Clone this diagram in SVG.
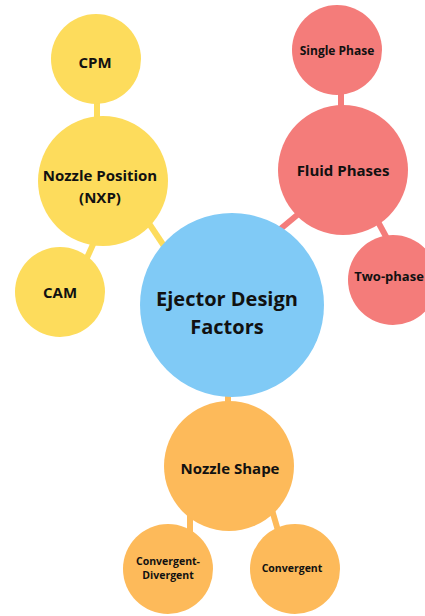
<svg xmlns="http://www.w3.org/2000/svg" width="425" height="616" viewBox="0 0 425 616">
<style>
text{font-family:"Open Sans","Liberation Sans",sans-serif;font-weight:bold;fill:#111;text-anchor:middle;dominant-baseline:central}
.y{fill:#FDDC5C}.b{fill:#80CAF6}.r{fill:#F47C7A}.o{fill:#FDBA5A}
.ly{stroke:#FDDC5C}.lr{stroke:#F47C7A}.lo{stroke:#FDBA5A}
line{stroke-width:6}
</style>
<rect width="425" height="616" fill="#fff"/>
<g id="connectors">
<line class="ly" x1="97" y1="100" x2="97" y2="120"/>
<line class="ly" x1="148" y1="222" x2="168" y2="252"/>
<line class="ly" x1="95" y1="240" x2="86" y2="260"/>
<line class="lr" x1="302" y1="211" x2="272" y2="236"/>
<line class="lr" x1="341" y1="90" x2="341" y2="110"/>
<line class="lr" x1="377" y1="220" x2="390" y2="244"/>
<line class="lo" x1="228" y1="390" x2="228" y2="406"/>
<line class="lo" x1="190" y1="510" x2="190" y2="534"/>
<line class="lo" x1="272" y1="510" x2="279" y2="534"/>
</g>
<g id="cpm"><circle class="y" cx="96" cy="59" r="45"/><text x="95" y="62" font-size="15">CPM</text></g>
<g id="nxp"><circle class="y" cx="103" cy="181" r="65"/><text x="100" y="175" font-size="15">Nozzle Position</text><text x="100" y="197" font-size="15">(NXP)</text></g>
<g id="cam"><circle class="y" cx="60" cy="292" r="45"/><text x="60" y="292" font-size="15">CAM</text></g>
<g id="ejector"><circle class="b" cx="232" cy="305" r="92"/><text x="227" y="298" font-size="20">Ejector Design</text><text x="227" y="326" font-size="20">Factors</text></g>
<g id="fluid"><circle class="r" cx="343" cy="170" r="65"/><text x="343" y="170" font-size="15">Fluid Phases</text></g>
<g id="single"><circle class="r" cx="337" cy="50" r="45"/><text x="337" y="50" font-size="12">Single Phase</text></g>
<g id="two"><circle class="r" cx="393" cy="280" r="45"/><text x="389" y="276" font-size="13">Two-phase</text></g>
<g id="shape"><circle class="o" cx="229" cy="466" r="65"/><text x="230" y="468" font-size="15">Nozzle Shape</text></g>
<g id="cd"><circle class="o" cx="168" cy="569" r="45"/><text x="168" y="561" font-size="10.5">Convergent-</text><text x="168" y="575" font-size="10.5">Divergent</text></g>
<g id="conv"><circle class="o" cx="295" cy="569" r="45"/><text x="292" y="568" font-size="10.5">Convergent</text></g>
</svg>
